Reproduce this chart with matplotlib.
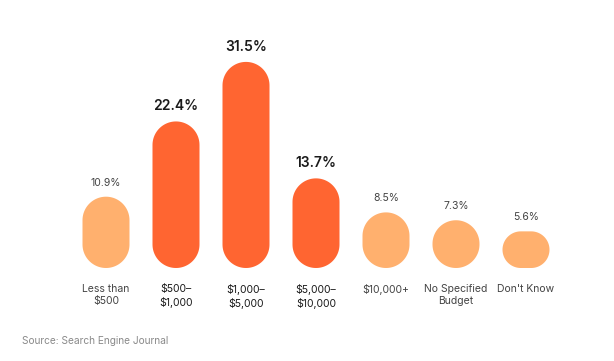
import matplotlib
matplotlib.use("Agg")
import numpy as np
import matplotlib.pyplot as plt
from matplotlib.patches import Polygon

categories = ["Less than\n$500", "$500–\n$1,000", "$1,000–\n$5,000", "$5,000–\n$10,000",
              "$10,000+", "No Specified\nBudget", "Don't Know"]
values = [10.9, 22.4, 31.5, 13.7, 8.5, 7.3, 5.6]
highlight = [False, True, True, True, False, False, False]

DARK = "#FF6531"
LIGHT = "#FFB06E"

plt.rcParams['font.family'] = ['Inter', 'DejaVu Sans']

fig = plt.figure(figsize=(6.14, 3.61), dpi=100)
ax = fig.add_axes([71/614, (361-268)/361, 490/614, 229/361])
ax.set_xlim(-0.5, len(values) - 0.5)
ax.set_ylim(0, 35)
ax.axis('off')

t0 = ax.transData.transform((0, 0))
t1 = ax.transData.transform((1, 1))
ppx = t1[0] - t0[0]   # pixels per x unit
ppy = t1[1] - t0[1]   # pixels per y unit


def pill(xc, h, w):
    """Rounded rectangle in data coords with circular corners in pixel space."""
    w_px = w * ppx
    h_px = h * ppy
    r_px = min(w_px, h_px) / 2
    rx, ry = r_px / ppx, r_px / ppy
    x0, x1 = xc - w / 2, xc + w / 2
    y0, y1 = 0, h
    pts = []
    corners = [((x1 - rx, y0 + ry), -90, 0), ((x1 - rx, y1 - ry), 0, 90),
               ((x0 + rx, y1 - ry), 90, 180), ((x0 + rx, y0 + ry), 180, 270)]
    for (cx, cy), a0, a1 in corners:
        t = np.radians(np.linspace(a0, a1, 30))
        pts.extend(zip(cx + rx * np.cos(t), cy + ry * np.sin(t)))
    return np.array(pts)


width = 47 / ppx
for i, (v, hl) in enumerate(zip(values, highlight)):
    ax.add_patch(Polygon(pill(i, v, width), closed=True,
                         fc=DARK if hl else LIGHT, ec='none'))
    if hl:
        ax.annotate(f"{v}%", (i, v), xytext=(0, 8), textcoords='offset pixels',
                    ha='center', va='bottom', fontsize=10, fontweight='semibold', color='#1a1a1a')
    else:
        ax.annotate(f"{v}%", (i, v), xytext=(0, 9), textcoords='offset pixels',
                    ha='center', va='bottom', fontsize=7.5, color='#444444')
    ax.annotate(categories[i], (i, 0), xytext=(0, -16), textcoords='offset pixels',
                ha='center', va='top', fontsize=7.5, linespacing=1.3,
                color='#1a1a1a' if hl else '#444444')

fig.text(22/614, 1 - 341/361, "Source: Search Engine Journal", fontsize=7.3,
         color='#8a8a8a', ha='left', va='center')

fig.savefig("out.png", dpi=100)
